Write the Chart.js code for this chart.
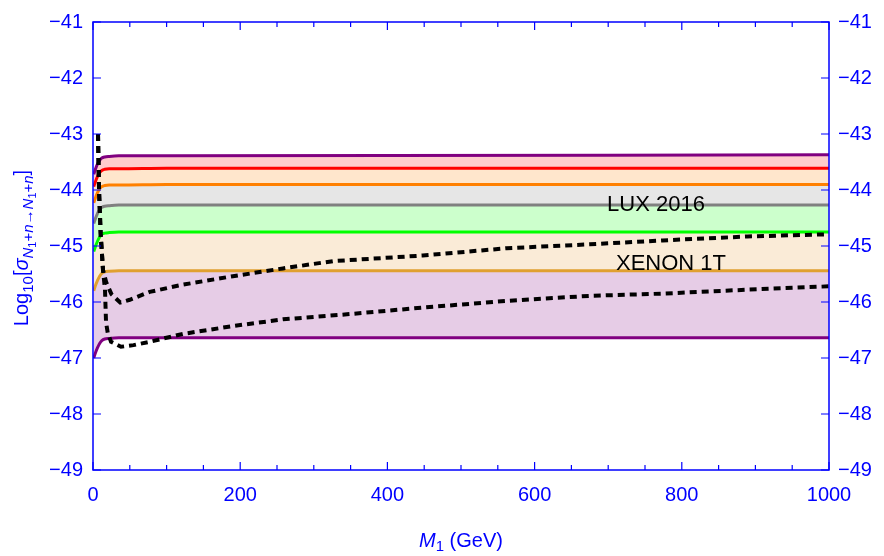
<!DOCTYPE html>
<html>
<head>
<meta charset="utf-8">
<script src="https://cdn.jsdelivr.net/npm/chart.js@4.4.1/dist/chart.umd.min.js"></script>
<style>
  html, body { margin: 0; padding: 0; background: #fff; }
</style>
</head>
<body>
<canvas id="chart" width="884" height="556"></canvas>
<script>
// ─── DATA ─────────────────────
const massGrid = [1, 3, 6, 9, 12, 16, 22, 35, 100, 1000];

// band boundaries, top to bottom
const purpleTopLine    = [-43.72, -43.64, -43.54, -43.47, -43.43, -43.41, -43.40, -43.39, -43.39, -43.37];
const redLine          = [-43.94, -43.86, -43.76, -43.69, -43.65, -43.63, -43.62, -43.62, -43.61, -43.61];
const orangeLine       = [-44.23, -44.15, -44.05, -43.98, -43.94, -43.92, -43.91, -43.91, -43.90, -43.90];
const grayLine         = [-44.60, -44.52, -44.42, -44.35, -44.31, -44.29, -44.28, -44.27, -44.27, -44.27];
const greenLine        = [-45.10, -45.02, -44.92, -44.84, -44.79, -44.77, -44.76, -44.75, -44.75, -44.75];
const goldLine         = [-45.80, -45.72, -45.62, -45.54, -45.49, -45.46, -45.45, -45.44, -45.44, -45.44];
const purpleBottomLine = [-47.00, -46.92, -46.82, -46.74, -46.69, -46.66, -46.65, -46.64, -46.64, -46.64];

// experimental limits
const luxMass  = [6.8, 8.2, 10.4, 13.6, 18, 25, 37, 50, 77, 122, 190, 258, 326, 448, 562, 675, 774, 889, 1000];
const luxLimit = [-43.0, -44.0, -44.78, -45.43, -45.65, -45.86, -46.01, -45.96, -45.82, -45.69, -45.54, -45.40, -45.27, -45.17, -45.04, -44.97, -44.90, -44.83, -44.79];

const xenonMass  = [6.8, 8.2, 10.4, 13.6, 16.3, 17.7, 20, 24.5, 38, 55, 77, 122, 190, 258, 345, 448, 562, 675, 774, 889, 1000];
const xenonLimit = [-43.0, -44.0, -44.78, -45.43, -45.78, -46.36, -46.55, -46.71, -46.80, -46.77, -46.71, -46.57, -46.43, -46.31, -46.22, -46.10, -45.98, -45.89, -45.85, -45.78, -45.72];

const xTicks = [0, 200, 400, 600, 800, 1000];
const yTicks = [-49, -48, -47, -46, -45, -44, -43, -42, -41];

const AXIS_BLUE = '#0000ff';
const FONT = '"Liberation Sans", Arial, sans-serif';

const pts = (xs, ys) => xs.map((x, i) => ({ x, y: ys[i] }));
const minus = v => String(v).replace('-', '\u2212');

function band(values, line, fillColor) {
  return {
    data: pts(massGrid, values),
    borderColor: line,
    backgroundColor: fillColor,
    borderWidth: 3,
    fill: fillColor ? '+1' : false,
    pointRadius: 0,
    cubicInterpolationMode: 'monotone'
  };
}

function limit(xs, ys) {
  return {
    data: pts(xs, ys),
    borderColor: '#000',
    borderWidth: 4,
    borderDash: [7, 5],
    borderCapStyle: 'butt',
    fill: false,
    pointRadius: 0,
    order: -1
  };
}

// draws text runs with subscript offsets, centred on (0,0)
function drawRuns(ctx, runs) {
  let w = 0;
  runs.forEach(r => { ctx.font = r.font; w += ctx.measureText(r.t).width; });
  let cx = -w / 2;
  runs.forEach(r => {
    ctx.font = r.font;
    ctx.fillText(r.t, cx, r.dy || 0);
    cx += ctx.measureText(r.t).width;
  });
}

const frameAndLabels = {
  id: 'frameAndLabels',
  afterDatasetsDraw(chart) {
    const { ctx, chartArea: a, scales } = chart;
    const xs = scales.x, ys = scales.y;
    ctx.save();

    // frame
    ctx.strokeStyle = AXIS_BLUE;
    ctx.lineWidth = 1.5;
    ctx.strokeRect(a.left, a.top, a.right - a.left, a.bottom - a.top);

    // inward ticks, minor every 50 on x
    ctx.lineWidth = 1.2;
    ctx.beginPath();
    for (let m = 0; m <= 1000; m += 50) {
      const px = xs.getPixelForValue(m);
      const len = m % 200 === 0 ? 8 : 5;
      ctx.moveTo(px, a.bottom); ctx.lineTo(px, a.bottom - len);
      ctx.moveTo(px, a.top); ctx.lineTo(px, a.top + len);
    }
    yTicks.forEach(v => {
      const py = ys.getPixelForValue(v);
      ctx.moveTo(a.left, py); ctx.lineTo(a.left + 8, py);
      ctx.moveTo(a.right, py); ctx.lineTo(a.right - 8, py);
    });
    ctx.stroke();

    // curve labels
    ctx.fillStyle = '#000';
    ctx.font = '22px ' + FONT;
    ctx.textAlign = 'center';
    ctx.textBaseline = 'alphabetic';
    ctx.fillText('LUX 2016', 656, 211);
    ctx.fillText('XENON 1T', 671, 270);

    // axis titles
    ctx.fillStyle = AXIS_BLUE;
    ctx.textAlign = 'left';
    const big = '20px ' + FONT, bigI = 'italic 20px ' + FONT;
    const sub = '15px ' + FONT, subI = 'italic 15px ' + FONT;
    const sub2 = '11px ' + FONT;

    ctx.save();
    ctx.translate((a.left + a.right) / 2, 547);
    drawRuns(ctx, [
      { t: 'M', font: bigI },
      { t: '1', font: sub, dy: 4 },
      { t: ' (GeV)', font: big }
    ]);
    ctx.restore();

    ctx.save();
    ctx.translate(28, (a.top + a.bottom) / 2 + 2);
    ctx.rotate(-Math.PI / 2);
    drawRuns(ctx, [
      { t: 'Log', font: big },
      { t: '10', font: sub, dy: 5 },
      { t: '[', font: big },
      { t: 'σ', font: bigI },
      { t: 'N', font: subI, dy: 5 },
      { t: '1', font: sub2, dy: 8 },
      { t: '+', font: sub, dy: 5 },
      { t: 'n', font: subI, dy: 5 },
      { t: '→', font: sub, dy: 5 },
      { t: 'N', font: subI, dy: 5 },
      { t: '1', font: sub2, dy: 8 },
      { t: '+', font: sub, dy: 5 },
      { t: 'n', font: subI, dy: 5 },
      { t: ']', font: big }
    ]);
    ctx.restore();

    ctx.restore();
  }
};

const tickFont = { family: FONT, size: 20 };

new Chart(document.getElementById('chart'), {
  type: 'line',
  data: {
    datasets: [
      band(purpleTopLine, '#800080', '#ffcccc'),
      band(redLine, '#ff0000', '#ffe6cc'),
      band(orangeLine, '#ff8000', '#e6e6e6'),
      band(grayLine, '#808080', '#ccffcc'),
      band(greenLine, '#00ff00', '#faebd7'),
      band(goldLine, '#e0a030', '#e6cce6'),
      band(purpleBottomLine, '#800080', null),
      limit(luxMass, luxLimit),
      limit(xenonMass, xenonLimit)
    ]
  },
  options: {
    responsive: false,
    animation: false,
    layout: { padding: { top: 15, left: 0, right: 0, bottom: 0 } },
    plugins: {
      legend: { display: false },
      tooltip: { enabled: false },
      filler: { drawTime: 'beforeDatasetsDraw' }
    },
    scales: {
      x: {
        type: 'linear', min: 0, max: 1000,
        afterBuildTicks: s => { s.ticks = xTicks.map(v => ({ value: v })); },
        afterFit: s => { s.height = 86; },
        grid: { display: false, drawTicks: false },
        border: { display: false },
        ticks: { color: AXIS_BLUE, font: tickFont, padding: 13, maxRotation: 0, callback: v => String(v) }
      },
      y: {
        type: 'linear', position: 'left', min: -49, max: -41,
        afterBuildTicks: s => { s.ticks = yTicks.map(v => ({ value: v })); },
        afterFit: s => { s.width = 93; },
        grid: { display: false, drawTicks: false },
        border: { display: false },
        ticks: { color: AXIS_BLUE, font: tickFont, padding: 10, callback: minus }
      },
      y2: {
        type: 'linear', position: 'right', min: -49, max: -41,
        afterBuildTicks: s => { s.ticks = yTicks.map(v => ({ value: v })); },
        afterFit: s => { s.width = 55; },
        grid: { display: false, drawTicks: false },
        border: { display: false },
        ticks: { color: AXIS_BLUE, font: tickFont, padding: 9, callback: minus }
      }
    }
  },
  plugins: [frameAndLabels]
});
</script>
</body>
</html>
